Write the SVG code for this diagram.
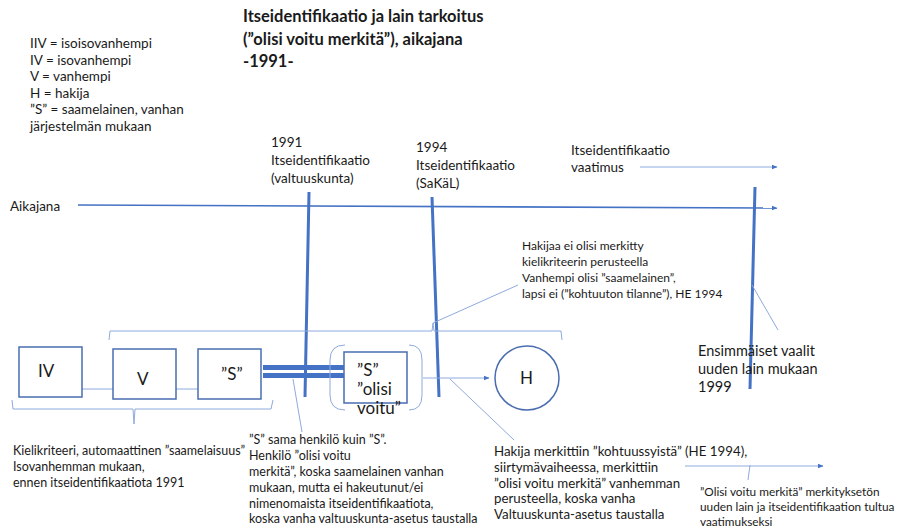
<svg xmlns="http://www.w3.org/2000/svg" width="900" height="529" viewBox="0 0 900 529">
<style>
text{font-family:Lato,"Open Sans","Liberation Sans",sans-serif;fill:#1a1a1a}
.t{font-size:16.5px;font-weight:bold}
.s{font-size:12.5px}
.m{font-size:13.5px}
.n{font-size:17px}
.thick{stroke:#4472C4;stroke-width:3;fill:none}
.thin{stroke:#8FAADC;stroke-width:1;fill:none}
.tl{stroke:#4472C4;stroke-width:1.6;fill:none}
.box{fill:#fff;stroke:#4a6db0;stroke-width:1.5}
</style>
<defs>
<marker id="ah" viewBox="0 0 10 10" refX="9" refY="5" markerWidth="6" markerHeight="6" orient="auto" markerUnits="userSpaceOnUse"><path d="M0,1 L10,5 L0,9 z" fill="#4472C4"/></marker>
</defs>
<rect width="900" height="529" fill="#fff"/>
<g id="title">
<text class="t" x="243" y="22">Itseidentifikaatio ja lain tarkoitus</text>
<text class="t" x="243" y="45">(”olisi voitu merkitä”), aikajana</text>
<text class="t" x="243" y="67">-1991-</text>
</g>
<g id="legend" class="m">
<text x="30" y="48">IIV = isoisovanhempi</text>
<text x="30" y="65">IV = isovanhempi</text>
<text x="30" y="81">V = vanhempi</text>
<text x="30" y="98">H = hakija</text>
<text x="30" y="114">”S” = saamelainen, vanhan</text>
<text x="30" y="131">järjestelmän mukaan</text>
</g>
<g id="connectors">
<line class="tl" x1="78" y1="205" x2="777" y2="208" marker-end="url(#ah)"/>
<line class="thin" x1="640" y1="167" x2="777" y2="167" marker-end="url(#ah)"/>
<line class="thick" x1="309" y1="192" x2="305" y2="397"/>
<line class="thick" x1="432" y1="197" x2="439" y2="397"/>
<line class="thick" x1="755" y1="187" x2="750" y2="389"/>
<path class="thin" d="M109,340 L110,331 L432,331 L433,323 L434,331 L561,331 L562,340"/>
<line class="thin" x1="433" y1="323" x2="518" y2="285"/>
<path class="thin" d="M12,400 L13,409 L133,409 L134,424 L135,409 L271,409 L273,400"/>
<line class="thin" x1="213" y1="389" x2="72" y2="389" marker-end="url(#ah)"/>
<rect x="263" y="365" width="84" height="5" fill="#4472C4"/>
<rect x="263" y="373" width="84" height="5" fill="#4472C4"/>
<line class="thin" x1="293" y1="379" x2="302" y2="432"/>
<path class="thin" d="M345,345 Q330,345 330,360 L330,395 Q330,410 345,410"/>
<path class="thin" d="M409,345 Q422,345 422,360 L422,395 Q422,410 409,410"/>
<line class="thin" x1="423" y1="378" x2="489" y2="378" marker-end="url(#ah)"/>
<line class="thin" x1="450" y1="379" x2="514" y2="440"/>
<line class="thin" x1="752" y1="285" x2="778" y2="330"/>
<line class="thin" x1="685" y1="466" x2="823" y2="466" marker-end="url(#ah)"/>
<line class="thin" x1="750" y1="465" x2="748" y2="480"/>
</g>
<g id="timeline-labels" class="m">
<text x="10" y="211">Aikajana</text>
<text x="271" y="147">1991</text>
<text x="271" y="165">Itseidentifikaatio</text>
<text x="271" y="183">(valtuuskunta)</text>
<text x="416" y="152">1994</text>
<text x="416" y="170">Itseidentifikaatio</text>
<text x="416" y="188">(SaKäL)</text>
<text x="571" y="155">Itseidentifikaatio</text>
<text x="571" y="172">vaatimus</text>
</g>
<g id="node-IV"><rect class="box" x="19" y="347" width="63" height="50"/><text class="n" x="38" y="377">IV</text></g>
<g id="node-V"><rect class="box" x="113" y="349" width="63" height="50"/><text class="n" x="137" y="385">V</text></g>
<g id="node-S"><rect class="box" x="198" y="349" width="63" height="50"/><text class="n" x="221" y="380">”S”</text></g>
<g id="node-S2"><rect class="box" x="344" y="352" width="63" height="51"/>
<text class="n" x="357" y="376">”S”</text><text class="n" x="357" y="395">”olisi</text><text class="n" x="357" y="414">voitu”</text></g>
<g id="node-H"><circle cx="527" cy="378" r="32" fill="#fff" stroke="#4a6db0" stroke-width="1.5"/><text class="n" x="520" y="384">H</text></g>
<g id="notes" class="s">
<g style="font-size:12px">
<text x="522" y="250">Hakijaa ei olisi merkitty</text>
<text x="522" y="266">kielikriteerin perusteella</text>
<text x="522" y="282">Vanhempi olisi ”saamelainen”,</text>
<text x="522" y="298">lapsi ei (”kohtuuton tilanne”), HE 1994</text>
</g>
<text x="13" y="455">Kielikriteeri, automaattinen ”saamelaisuus”</text>
<text x="13" y="471">Isovanhemman mukaan,</text>
<text x="13" y="487">ennen itseidentifikaatiota 1991</text>
<text x="249" y="444">”S” sama henkilö kuin ”S”.</text>
<text x="249" y="460">Henkilö ”olisi voitu</text>
<text x="249" y="476">merkitä”, koska saamelainen vanhan</text>
<text x="249" y="492">mukaan, mutta ei hakeutunut/ei</text>
<text x="249" y="508">nimenomaista itseidentifikaatiota,</text>
<text x="249" y="523">koska vanha valtuuskunta-asetus taustalla</text>
<g style="font-size:13.3px">
<text x="494" y="456">Hakija merkittiin ”kohtuussyistä” (HE 1994),</text>
<text x="494" y="472">siirtymävaiheessa, merkittiin</text>
<text x="494" y="488">”olisi voitu merkitä” vanhemman</text>
<text x="494" y="503">perusteella, koska vanha</text>
<text x="494" y="519">Valtuuskunta-asetus taustalla</text>
</g>
<g style="font-size:11.8px">
<text x="700" y="496">”Olisi voitu merkitä” merkityksetön</text>
<text x="700" y="511">uuden lain ja itseidentifikaation tultua</text>
<text x="700" y="526">vaatimukseksi</text>
</g>
</g>
<g id="note-1999" style="font-size:14.5px">
<text x="698" y="356">Ensimmäiset vaalit</text>
<text x="698" y="374">uuden lain mukaan</text>
<text x="698" y="392">1999</text>
</g>
</svg>
